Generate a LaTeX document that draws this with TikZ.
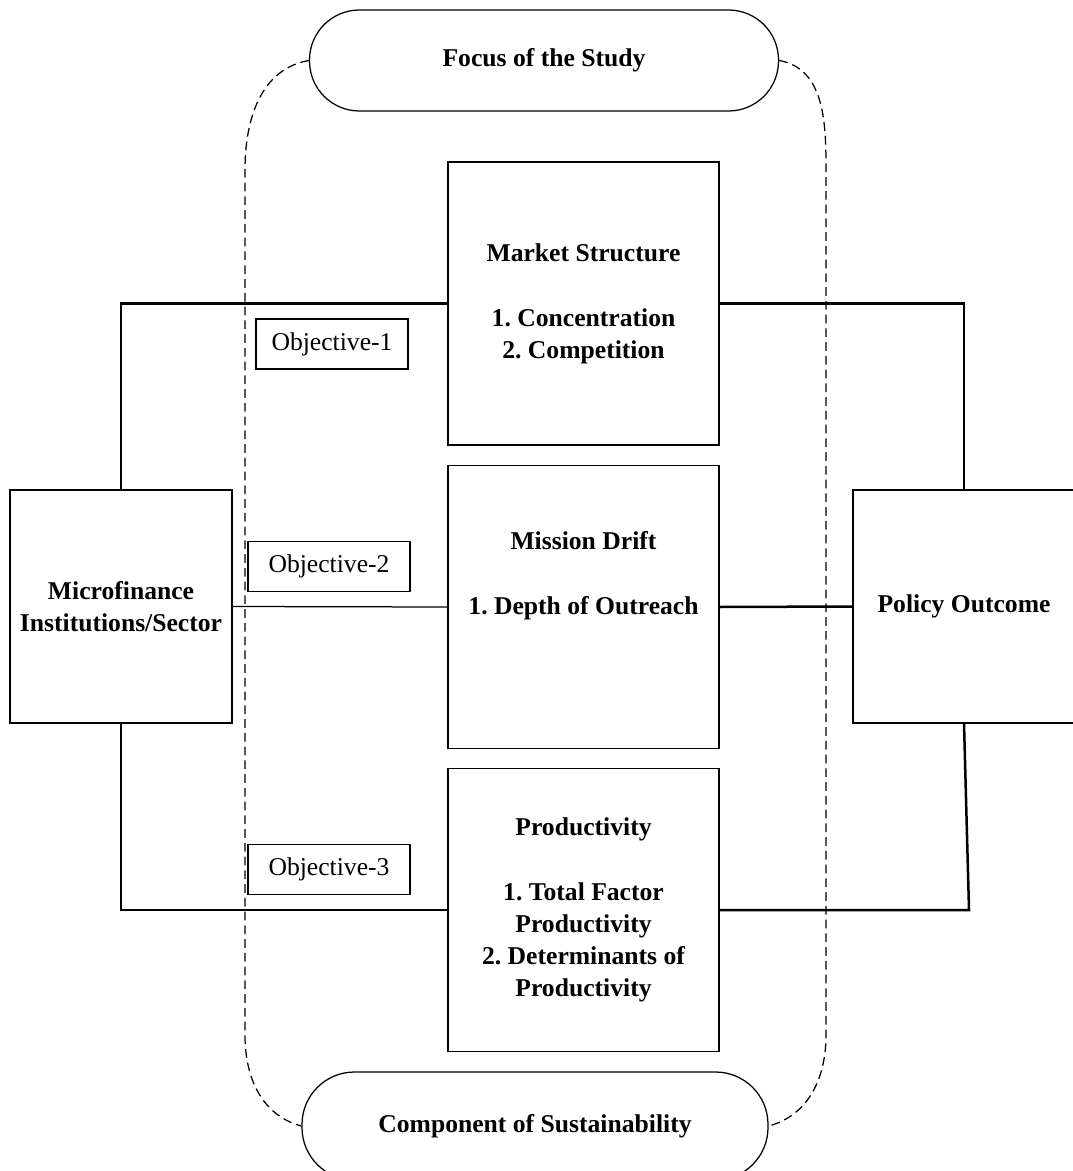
\documentclass[tikz,border=0pt]{standalone}
\usepackage{fontspec}
\setmainfont{Liberation Serif}
\frenchspacing
\begin{document}
\begin{tikzpicture}[x=0.4pt,y=-0.4pt,
  box/.style={draw, line width=0.5pt, align=center, inner sep=0pt, font=\fontsize{10.25}{12.8}\selectfont\bfseries},
  bigbox/.style={box, minimum width=108.4pt, minimum height=113.2pt},
  sidebox/.style={box, minimum width=88.8pt, minimum height=93.2pt},
  objbox/.style={draw, line width=0.5pt, inner sep=0pt, minimum height=20pt, font=\fontsize{10.25}{12.8}\selectfont},
  pill/.style={box, rounded corners=20pt, minimum width=187.6pt, minimum height=40.4pt},
  link/.style={line width=1pt},
  thinlink/.style={line width=0.5pt},
  focusline/.style={line width=0.5pt, dash pattern=on 3.5pt off 2pt}]
\useasboundingbox (0,0) rectangle (1072,1171);
% focus and component
\node[pill] (focus) at (544,60.5) {Focus of the Study};
\node[pill, minimum width=186.4pt, minimum height=43.2pt, rounded corners=21pt] (comp) at (535,1126) {Component of Sustainability};
% the three components
\node[bigbox] (market) at (583.5,303.5) {Market Structure\\[13.2pt]1. Concentration\\2. Competition};
\node[bigbox] (drift) at (583.5,607) {};
\node[box, draw=none] (drifttxt) at ([yshift=12.6pt]drift.center) {Mission Drift\\[13.2pt]1. Depth of Outreach};
\node[bigbox] (prod) at (583.5,910) {Productivity\\[13.2pt]1. Total Factor\\Productivity\\2. Determinants of\\Productivity};
% sides
\node[sidebox] (micro) at (121,606.5) {Microfinance\\Institutions/Sector};
\node[sidebox] (policy) at (964,606.5) {Policy Outcome};
% objectives
\node[objbox, minimum width=60.8pt] (obj1) at (332,344) {Objective-1};
\node[objbox, minimum width=64.8pt] (obj2) at (329,566.5) {Objective-2};
\node[objbox, minimum width=64.8pt] (obj3) at (329,869.5) {Objective-3};
% dashed frame
\coordinate (lt) at (245,170);
\coordinate (lb) at (245,1035);
\coordinate (rt) at (826,170);
\coordinate (rb) at (826,1035);
\draw[focusline] (focus.west) to[out=190,in=90] (lt) -- (lb) to[out=-90,in=165] (comp.west);
\draw[focusline] (focus.east) to[out=-10,in=90] (rt) -- (rb) to[out=-90,in=15] (comp.east);
% connectors
\draw[link] (micro.north) |- (market.west);
\draw[link] (market.east) -| (policy.north);
\draw[thinlink] (micro.east) -- (drift.west);
\draw[link] (drift.east) -- (policy.west);
\draw[link] (micro.south) |- (prod.west);
\coordinate (bend) at (969,910);
\draw[link] (prod.east) -- (bend) -- (policy.south);
\end{tikzpicture}
\end{document}
